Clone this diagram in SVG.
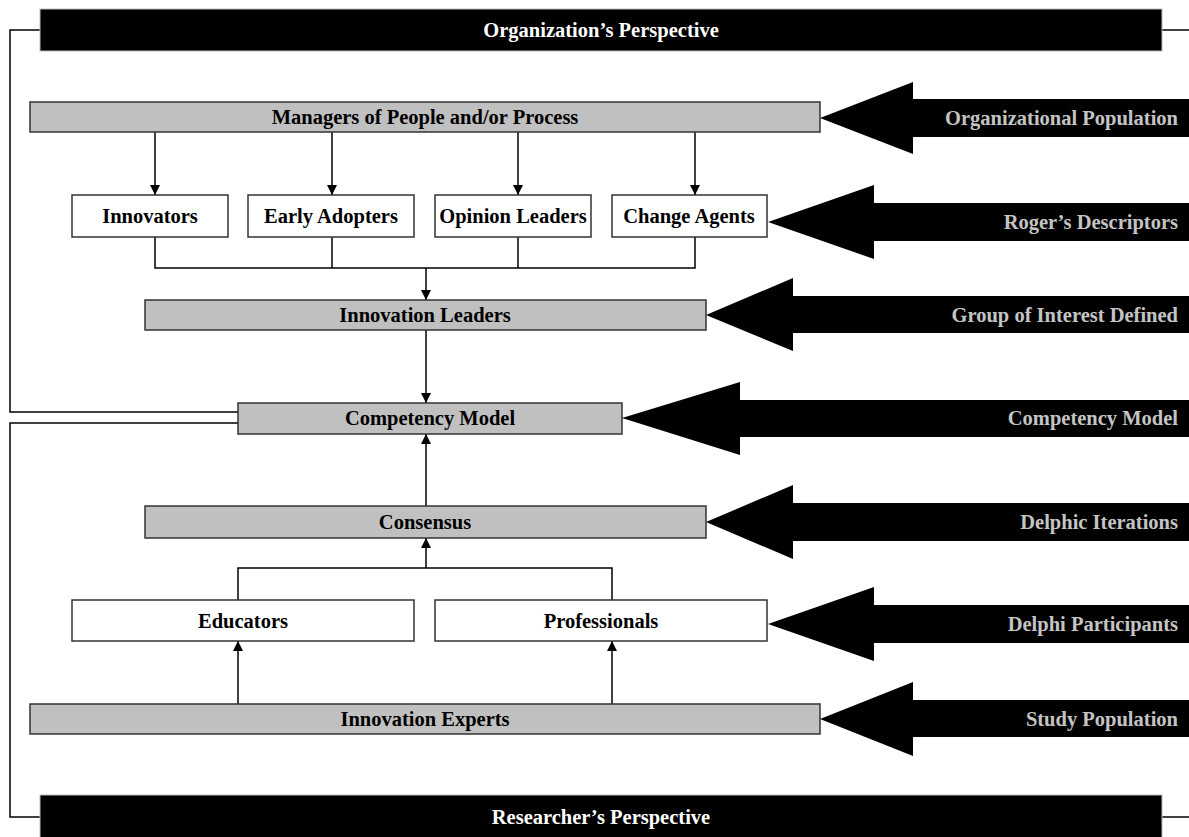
<svg xmlns="http://www.w3.org/2000/svg" width="1189" height="837" viewBox="0 0 1189 837">
<style>
.bar{fill:#000;stroke:#bbb;stroke-width:1}
.gbox{fill:#c0c0c0;stroke:#333;stroke-width:1.5}
.wbox{fill:#fff;stroke:#333;stroke-width:1.5}
.big{fill:#000}
.t{font-family:"Liberation Serif","Times New Roman",serif;font-weight:bold;font-size:20.5px;text-anchor:middle;fill:#000}
.tw{font-family:"Liberation Serif","Times New Roman",serif;font-weight:bold;font-size:20.5px;text-anchor:middle;fill:#fff}
.tg{font-family:"Liberation Serif","Times New Roman",serif;font-weight:bold;font-size:20.5px;text-anchor:end;fill:#c4c4c4}
.ln{fill:none;stroke:#000;stroke-width:1.5}
.arr{fill:none;stroke:#000;stroke-width:1.5;marker-end:url(#ah)}
</style>
<defs>
<marker id="ah" viewBox="0 0 10 10" refX="10" refY="5" markerWidth="10" markerHeight="10" markerUnits="userSpaceOnUse" orient="auto">
<path d="M0,0 L10,5 L0,10 z" fill="#000"/>
</marker>
</defs>
<rect width="1189" height="837" fill="#fff"/>

<g id="connectors">
<path class="ln" d="M40,30 H10 V412 H238"/>
<path class="ln" d="M238,423 H10 V817 H40"/>
<path class="ln" d="M1162,30 H1189"/>
<path class="ln" d="M1162,817 H1189"/>
<line class="arr" x1="155" y1="132" x2="155" y2="195"/>
<line class="arr" x1="332" y1="132" x2="332" y2="195"/>
<line class="arr" x1="518" y1="132" x2="518" y2="195"/>
<line class="arr" x1="695" y1="132" x2="695" y2="195"/>
<path class="ln" d="M155,237 V268 H695 V237"/>
<path class="ln" d="M332,237 V268"/>
<path class="ln" d="M518,237 V268"/>
<line class="arr" x1="426" y1="268" x2="426" y2="300"/>
<line class="arr" x1="426" y1="330" x2="426" y2="403"/>
<line class="arr" x1="426" y1="506" x2="426" y2="434"/>
<path class="ln" d="M238,600 V568 H612 V600"/>
<line class="arr" x1="426" y1="568" x2="426" y2="538"/>
<line class="arr" x1="238" y1="704" x2="238" y2="641"/>
<line class="arr" x1="612" y1="704" x2="612" y2="641"/>
</g>

<g id="org-perspective">
<rect class="bar" x="40" y="9" width="1122" height="42"/>
<text class="tw" x="601" y="37">Organization’s Perspective</text>
</g>
<g id="res-perspective">
<rect class="bar" x="40" y="795" width="1122" height="44"/>
<text class="tw" x="601" y="824">Researcher’s Perspective</text>
</g>

<g id="managers">
<rect class="gbox" x="30" y="102" width="790" height="30"/>
<text class="t" x="425" y="124">Managers of People and/or Process</text>
</g>
<g id="innovators">
<rect class="wbox" x="72" y="195" width="156" height="42"/>
<text class="t" x="150" y="223">Innovators</text>
</g>
<g id="early-adopters">
<rect class="wbox" x="248" y="195" width="166" height="42"/>
<text class="t" x="331" y="223">Early Adopters</text>
</g>
<g id="opinion-leaders">
<rect class="wbox" x="435" y="195" width="156" height="42"/>
<text class="t" x="513" y="223">Opinion Leaders</text>
</g>
<g id="change-agents">
<rect class="wbox" x="612" y="195" width="155" height="42"/>
<text class="t" x="689" y="223">Change Agents</text>
</g>
<g id="innovation-leaders">
<rect class="gbox" x="145" y="300" width="561" height="30"/>
<text class="t" x="425" y="322">Innovation Leaders</text>
</g>
<g id="competency-model">
<rect class="gbox" x="238" y="403" width="384" height="31"/>
<text class="t" x="430" y="425">Competency Model</text>
</g>
<g id="consensus">
<rect class="gbox" x="145" y="506" width="561" height="32"/>
<text class="t" x="425" y="529">Consensus</text>
</g>
<g id="educators">
<rect class="wbox" x="72" y="600" width="342" height="41"/>
<text class="t" x="243" y="628">Educators</text>
</g>
<g id="professionals">
<rect class="wbox" x="435" y="600" width="332" height="41"/>
<text class="t" x="601" y="628">Professionals</text>
</g>
<g id="innovation-experts">
<rect class="gbox" x="30" y="704" width="790" height="30"/>
<text class="t" x="425" y="726">Innovation Experts</text>
</g>

<g id="arrow-org-pop">
<polygon class="big" points="820,118 913,82 913,99 1189,99 1189,137 913,137 913,154"/>
<text class="tg" x="1178" y="125">Organizational Population</text>
</g>
<g id="arrow-rogers">
<polygon class="big" points="768,222 874,185 874,203 1189,203 1189,241 874,241 874,259"/>
<text class="tg" x="1178" y="229">Roger’s Descriptors</text>
</g>
<g id="arrow-group">
<polygon class="big" points="706,315 793,278 793,296 1189,296 1189,333 793,333 793,351"/>
<text class="tg" x="1178" y="322">Group of Interest Defined</text>
</g>
<g id="arrow-competency">
<polygon class="big" points="622,418 740,382 740,400 1189,400 1189,437 740,437 740,455"/>
<text class="tg" x="1178" y="425">Competency Model</text>
</g>
<g id="arrow-delphic">
<polygon class="big" points="706,522 793,485 793,503 1189,503 1189,541 793,541 793,559"/>
<text class="tg" x="1178" y="529">Delphic Iterations</text>
</g>
<g id="arrow-participants">
<polygon class="big" points="768,624 874,587 874,605 1189,605 1189,643 874,643 874,661"/>
<text class="tg" x="1178" y="631">Delphi Participants</text>
</g>
<g id="arrow-study">
<polygon class="big" points="820,719 913,682 913,700 1189,700 1189,737 913,737 913,756"/>
<text class="tg" x="1178" y="726">Study Population</text>
</g>
</svg>
